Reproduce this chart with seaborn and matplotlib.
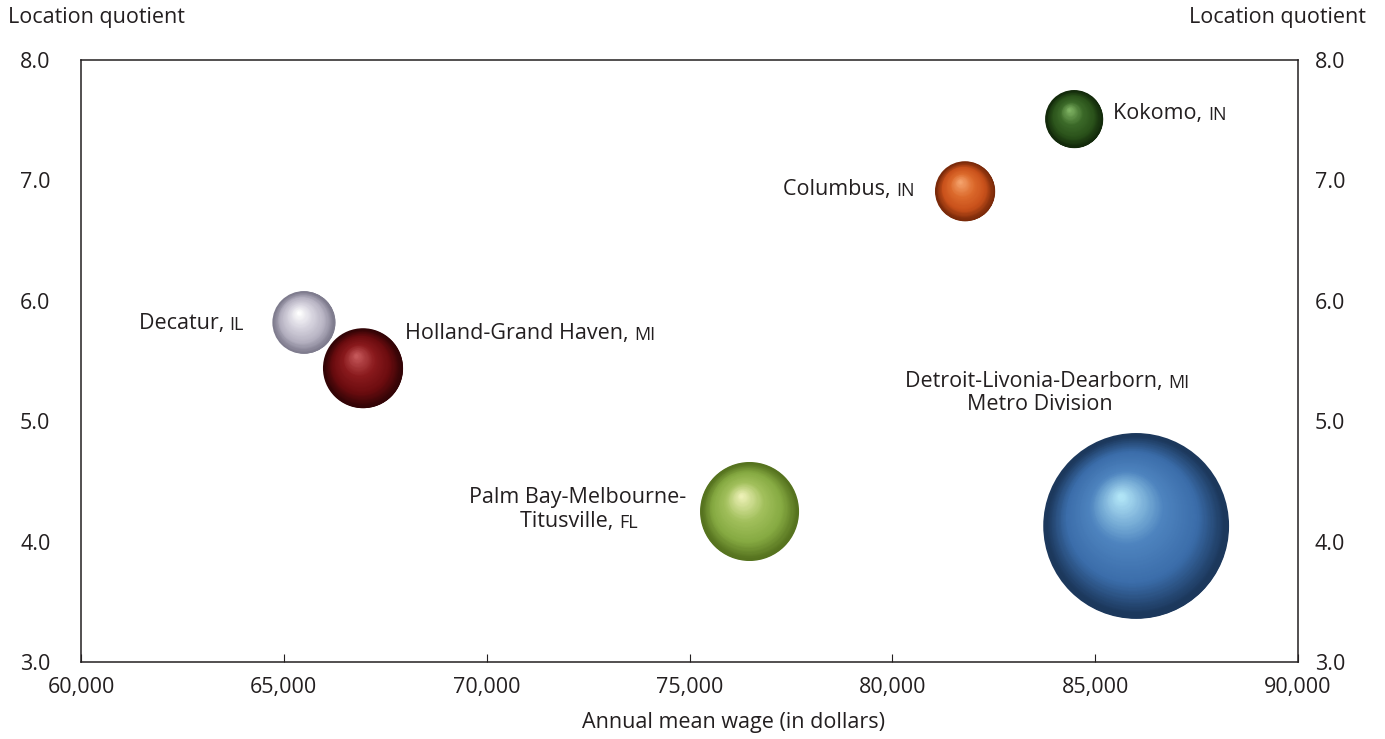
import numpy as np
import pandas as pd
import matplotlib
matplotlib.use("Agg")
import matplotlib.pyplot as plt
import matplotlib.transforms as mtransforms
from matplotlib.colors import LinearSegmentedColormap
import seaborn as sns

# Metro areas: annual mean wage, location quotient and employment (bubble area)
areas = ["Decatur", "Holland-Grand Haven", "Columbus", "Kokomo",
         "Palm Bay-Melbourne-Titusville", "Detroit-Livonia-Dearborn"]
states = ["IL", "MI", "IN", "IN", "FL", "MI"]
mean_wage = [65490, 66950, 81790, 84480, 76480, 86010]
location_quotient = [5.82, 5.44, 6.91, 7.51, 4.25, 4.13]
employment = [2950, 4800, 2700, 2520, 7350, 25900]

x_ticks = [60000, 65000, 70000, 75000, 80000, 85000, 90000]
y_ticks = [3.0, 4.0, 5.0, 6.0, 7.0, 8.0]

# shading palettes per sphere: rim, body, light, specular
shades = {
    "Decatur": ["#7f7c8e", "#b6b2c2", "#d6d3de", "#ffffff"],
    "Holland-Grand Haven": ["#330406", "#6c0c0f", "#8a1a1d", "#c5585a"],
    "Columbus": ["#7a2a0a", "#c9511b", "#dc6a2c", "#f5a36c"],
    "Kokomo": ["#132a0b", "#2b531b", "#3c6a29", "#80b464"],
    "Palm Bay-Melbourne-Titusville": ["#56731f", "#86aa42", "#a2c05c", "#edf1b6"],
    "Detroit-Livonia-Dearborn": ["#1c385c", "#3b6daa", "#4e84bf", "#b0e4f6"],
}

df = pd.DataFrame({"area": areas, "state": states, "wage": mean_wage,
                   "lq": location_quotient, "employment": employment})

DPI = 100
TEXT = "#231f20"
FS = 15.5
FS_STATE = 13
plt.rcParams["font.family"] = ["Open Sans", "DejaVu Sans"]

fig = plt.figure(figsize=(13.85, 7.39), dpi=DPI)
ax = fig.add_axes([0.0585, 0.1042, 0.8787, 0.8146])

# area of each marker proportional to employment
k = 0.6912
emp_min, emp_max = min(employment), max(employment)
sns.scatterplot(data=df, x="wage", y="lq", hue="area", size="employment",
                palette={a: shades[a][0] for a in areas},
                sizes=(k * emp_min, k * emp_max), size_norm=(emp_min, emp_max),
                linewidth=0, legend=False, ax=ax, zorder=3)

# spherical shading: nested discs shrinking toward the specular spot
n_layers = 90
for _, row in df.iterrows():
    s = k * row["employment"]
    R = np.sqrt(s) / 2.0  # radius in points
    c = shades[row["area"]]
    cmap = LinearSegmentedColormap.from_list(
        row["area"], [(0.0, c[0]), (0.04, c[0]), (0.3, c[1]), (0.62, c[2]),
                      (1.0, c[3])])
    hx, hy = -0.17 * R, 0.32 * R
    for i in range(1, n_layers):
        t = i / (n_layers - 1)
        r = R * (1 - 0.97 * t)
        tr = mtransforms.offset_copy(ax.transData, fig=fig,
                                     x=hx * t, y=hy * t, units="points")
        ax.scatter([row["wage"]], [row["lq"]], s=(2 * r) ** 2,
                   color=cmap(t), linewidths=0, transform=tr, zorder=3)

ax.set_xlim(60000, 90000)
ax.set_ylim(3.0, 8.0)
ax.set_xticks(x_ticks)
ax.set_xticklabels([f"{v:,}" for v in x_ticks])
ax.set_yticks(y_ticks)
ax.set_yticklabels([f"{v:.1f}" for v in y_ticks])
ax.tick_params(axis="x", direction="in", length=6, width=0.8, color=TEXT,
               labelsize=FS, labelcolor=TEXT, pad=11)
ax.tick_params(axis="y", length=0, labelsize=FS, labelcolor=TEXT, pad=22)
for sp in ax.spines.values():
    sp.set_color(TEXT)
    sp.set_linewidth(1.1)
ax.set_xlabel("Annual mean wage (in dollars)", fontsize=FS, color=TEXT,
              labelpad=10, x=0.536)
ax.set_ylabel("")

ax2 = ax.twinx()
ax2.set_ylim(3.0, 8.0)
ax2.set_yticks(y_ticks)
ax2.set_yticklabels([f"{v:.1f}" for v in y_ticks])
ax2.tick_params(axis="y", length=0, labelsize=FS, labelcolor=TEXT, pad=12)
for sp in ax2.spines.values():
    sp.set_visible(False)

fig.text(8 / 1385, 1 - 18 / 739, "Location quotient", fontsize=FS, color=TEXT,
         ha="left", va="center")
fig.text(1366 / 1385, 1 - 18 / 739, "Location quotient", fontsize=FS, color=TEXT,
         ha="right", va="center")


def label(x, y, name, state, ha="left"):
    """City name followed by a smaller state abbreviation."""
    if ha == "left":
        t = ax.text(x, y, name + ", ", fontsize=FS, color=TEXT, ha="left",
                    va="baseline", zorder=4)
        ax.annotate(state, xy=(1, 0), xycoords=t, fontsize=FS_STATE, color=TEXT,
                    ha="left", va="bottom", zorder=4)
    else:
        st = ax.text(x, y, state, fontsize=FS_STATE, color=TEXT, ha="right",
                     va="baseline", zorder=4)
        ax.annotate(name + ", ", xy=(0, 0), xycoords=st, fontsize=FS, color=TEXT,
                    ha="right", va="bottom", zorder=4)


label(64020, 5.76, "Decatur", "IL", ha="right")
label(67990, 5.68, "Holland-Grand Haven", "MI")
label(80540, 6.87, "Columbus", "IN", ha="right")
label(85440, 7.51, "Kokomo", "IN")

ax.text(72240, 4.32, "Palm Bay-Melbourne-", fontsize=FS, color=TEXT,
        ha="center", va="baseline")
label(70820, 4.12, "Titusville", "FL")

label(80310, 5.28, "Detroit-Livonia-Dearborn", "MI")
ax.text(83640, 5.09, "Metro Division", fontsize=FS, color=TEXT,
        ha="center", va="baseline")

fig.savefig("out.png", dpi=DPI)
